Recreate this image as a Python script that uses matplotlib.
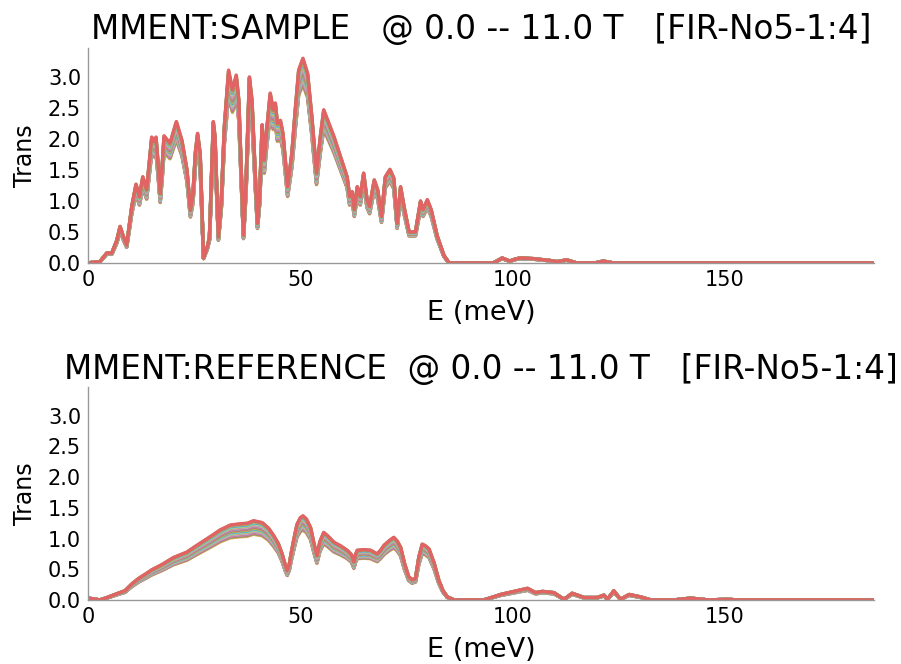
import numpy as np
import matplotlib
matplotlib.use("Agg")
import matplotlib.pyplot as plt

# magnetic fields (T) of the spectra
fields = [0.0, 0.5, 1.0, 1.5, 2.0, 2.5, 3.0, 3.5, 4.0, 4.5, 5.0, 5.5,
          6.0, 6.5, 7.0, 7.5, 8.0, 8.5, 9.0, 9.5, 10.0, 10.5, 11.0]

# relative amplitude of each field spectrum
scale_sample = [0.870, 0.876, 0.882, 0.888, 0.894, 0.900, 0.906, 0.912,
                0.918, 0.924, 0.930, 0.936, 0.942, 0.948, 0.954, 0.960,
                0.966, 0.972, 0.978, 0.984, 0.990, 0.995, 1.000]
scale_ref = [0.830, 0.838, 0.846, 0.854, 0.862, 0.870, 0.878, 0.886,
             0.894, 0.902, 0.910, 0.918, 0.926, 0.934, 0.942, 0.950,
             0.958, 0.966, 0.974, 0.982, 0.990, 0.995, 1.000]

# sample spectrum (highest field), E in meV
e_sample = [0.0, 2.8, 4.4, 5.6, 6.8, 7.55, 8.2, 9.1, 10.3, 11.3, 12.1, 12.9,
            13.8, 15.0, 15.6, 16.0, 16.5, 17.0, 17.5, 17.9, 19.3, 20.8, 22.1,
            23.3, 24.1, 24.7, 25.3, 25.8, 26.4, 27.2, 28.1, 28.6, 29.5, 29.9,
            30.7, 31.4, 32.1, 33.1, 34.0, 34.9, 35.5, 36.6, 37.2, 38.0, 38.6,
            39.4, 39.9, 40.4, 41.0, 41.5, 42.0, 42.9, 43.6, 44.1, 44.6, 45.3,
            45.9, 47.0, 48.0, 48.8, 49.6, 50.6, 51.7, 52.7, 53.8, 54.7, 55.5,
            57.9, 61.0, 61.6, 62.2, 62.7, 63.4, 64.1, 64.9, 65.7, 66.3, 67.4,
            68.2, 69.1, 70.0, 71.1, 72.0, 72.8, 73.6, 74.4, 75.6, 77.1, 78.3,
            78.9, 79.9, 80.8, 82.2, 83.8, 85.0, 95.5, 97.5, 99.3, 100.5,
            101.7, 104.8, 108.7, 110.5, 112.7, 115.0, 119.5, 121.3, 123.6,
            185.0]
t_sample = [0.0, 0.02, 0.16, 0.16, 0.37, 0.59, 0.45, 0.29, 0.91, 1.27, 1.07, 1.39,
            1.18, 2.03, 1.96, 2.03, 1.60, 1.12, 1.60, 2.05, 1.93, 2.28, 1.98,
            1.50, 0.85, 1.10, 1.80, 2.09, 1.77, 0.08, 0.26, 0.42, 2.28, 2.04,
            0.42, 1.02, 2.20, 3.11, 2.79, 3.03, 2.63, 0.45, 1.28, 3.00, 2.63,
            1.39, 0.64, 1.07, 2.23, 1.66, 2.09, 2.74, 2.47, 2.58, 2.25, 2.30,
            2.09, 1.23, 1.77, 2.47, 3.11, 3.30, 3.06, 2.36, 1.45, 2.04, 2.47,
            2.04, 1.39, 1.07, 1.15, 0.86, 1.23, 1.07, 1.45, 1.02, 0.91, 1.34,
            1.18, 0.75, 1.39, 1.51, 1.37, 0.64, 1.23, 0.91, 0.50, 0.50, 1.00,
            0.86, 1.02, 0.86, 0.44, 0.12, 0.0, 0.0, 0.08, 0.03, 0.06,
            0.08, 0.07, 0.04, 0.02, 0.05, 0.0, 0.0, 0.03, 0.0,
            0.0]

# reference spectrum (highest field)
e_ref = [0.1, 2.8, 4.5, 6.0, 7.5, 8.7, 10.3, 11.9, 13.5, 15.0, 17.5, 20.1,
         23.3, 25.2, 27.2, 29.2, 31.1, 33.5, 35.8, 37.5, 39.0, 41.0, 42.5,
         43.7, 44.8, 45.7, 46.4, 46.9, 47.4, 47.8, 48.5, 49.2, 50.0, 50.6,
         51.4, 52.4, 53.2, 53.9, 54.6, 55.5, 56.5, 57.9, 59.5, 61.0, 62.0,
         62.6, 63.0, 63.4, 65.0, 66.5, 68.1, 69.0, 69.7, 71.0, 72.0, 72.8,
         73.6, 74.5, 75.5, 76.3, 77.1, 77.9, 78.7, 79.5, 80.3, 81.5, 82.6,
         83.6, 84.6, 86.2, 93.2, 97.2, 103.5, 105.4, 107.0, 109.7, 112.1,
         114.0, 116.8, 119.9, 121.5, 122.3, 123.8, 125.4, 127.4, 130.1,
         132.5, 138.0, 141.9, 146.0, 150.6, 153.0, 185.0]
t_ref = [0.03, 0.0, 0.04, 0.08, 0.12, 0.15, 0.26, 0.35, 0.42, 0.49, 0.58, 0.69,
         0.78, 0.87, 0.96, 1.05, 1.14, 1.22, 1.24, 1.25, 1.29, 1.26, 1.17,
         1.05, 0.92, 0.75, 0.58, 0.48, 0.58, 0.75, 1.00, 1.23, 1.34, 1.37,
         1.32, 1.18, 0.92, 0.72, 0.95, 1.10, 1.04, 0.94, 0.88, 0.81, 0.74,
         0.62, 0.74, 0.81, 0.82, 0.81, 0.75, 0.82, 0.89, 0.97, 1.02, 0.96,
         0.86, 0.60, 0.38, 0.33, 0.35, 0.70, 0.91, 0.88, 0.83, 0.60, 0.32,
         0.15, 0.05, 0.0, 0.0, 0.09, 0.19, 0.12, 0.14, 0.12, 0.01,
         0.11, 0.04, 0.04, 0.08, 0.01, 0.15, 0.01, 0.09, 0.05,
         0.0, 0.0, 0.03, 0.0, 0.01, 0.0, 0.0]

panels = [
    ("MMENT:SAMPLE   @ 0.0 -- 11.0 T   [FIR-No5-1:4]", e_sample, t_sample, scale_sample),
    ("MMENT:REFERENCE  @ 0.0 -- 11.0 T   [FIR-No5-1:4]", e_ref, t_ref, scale_ref),
]

# tab10 washed out a bit (lines look pale in the original)
base = np.array(plt.get_cmap("tab10").colors)
pale = base * 0.72 + 0.28
colors = list(pale[1:]) + [pale[0]]  # so the last field comes out red

fig = plt.figure(figsize=(9.01, 6.64), dpi=100)
rects = [[0.0977, 0.604, 0.872, 0.324], [0.0977, 0.0964, 0.872, 0.321]]

for rect, (title, e, t, scales) in zip(rects, panels):
    ax = fig.add_axes(rect)
    e = np.array(e)
    t = np.array(t)
    for i, (b, s) in enumerate(zip(fields, scales)):
        ax.plot(e, t * s, color=colors[i % 10], lw=2.5,
                solid_joinstyle="round")
    ax.set_xlim(0, 185)
    ax.set_ylim(0, 3.47)
    ax.set_xticks([0, 50, 100, 150])
    ax.set_yticks([0.0, 0.5, 1.0, 1.5, 2.0, 2.5, 3.0])
    ax.set_yticklabels(["0.0", "0.5", "1.0", "1.5", "2.0", "2.5", "3.0"])
    ax.tick_params(length=0, labelsize=15, pad=5)
    for side in ["top", "right"]:
        ax.spines[side].set_visible(False)
    for side in ["left", "bottom"]:
        ax.spines[side].set_color("#999999")
        ax.spines[side].set_linewidth(1)
    ax.set_xlabel("E (meV)", fontsize=19.5, labelpad=7)
    ax.set_ylabel("Trans", fontsize=17, labelpad=8)
    ax.set_title(title, fontsize=23.5, pad=6)

fig.savefig("out.png", dpi=100)
